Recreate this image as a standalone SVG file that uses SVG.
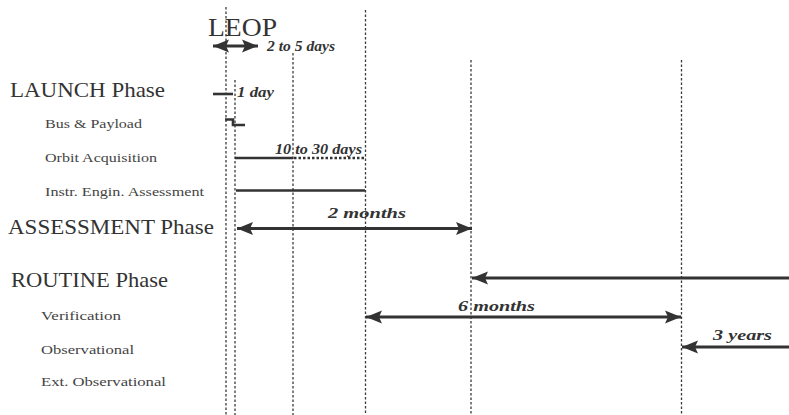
<svg xmlns="http://www.w3.org/2000/svg" width="789" height="415" viewBox="0 0 789 415">
<style>
  .bg{fill:#fff}
  .grid{stroke:#3a3a3a;stroke-width:1.3;stroke-dasharray:2.5 2;fill:none}
  .phase{font-size:22px;fill:#333}
  .sub{font-size:13.5px;fill:#444}
  .dur{font-size:14px;font-style:italic;font-weight:bold;fill:#333}
  .arrow{stroke:#333;stroke-width:3.2;fill:none}
  .bar{stroke:#333;stroke-width:2.6;fill:none}
  .dot{stroke:#333;stroke-width:2.6;stroke-dasharray:2.5 2;fill:none}
</style>
<defs>
  <marker id="ah" markerUnits="userSpaceOnUse" markerWidth="18" markerHeight="14" refX="16" refY="7" orient="auto-start-reverse">
    <path d="M0,0.5 L16,7 L0,13.5 L3,7 z" fill="#333"/>
  </marker>
</defs>
<rect class="bg" x="0" y="0" width="789" height="415"/>

<g id="gridlines">
  <line class="grid" x1="226" y1="7" x2="226" y2="415"/>
  <line class="grid" x1="235" y1="80" x2="235" y2="415"/>
  <line class="grid" x1="293" y1="53" x2="293" y2="415"/>
  <line class="grid" x1="365.5" y1="10" x2="365.5" y2="415"/>
  <line class="grid" x1="471" y1="60" x2="471" y2="415"/>
  <line class="grid" x1="681.5" y1="60" x2="681.5" y2="415"/>
</g>

<g id="leop" font-family="'Liberation Serif', 'Times New Roman', serif">
  <text x="208" y="36" font-size="26" fill="#333" textLength="69" lengthAdjust="spacingAndGlyphs">LEOP</text>
  <line class="arrow" x1="213" y1="46" x2="258" y2="46" marker-start="url(#ah)" marker-end="url(#ah)"/>
  <text class="dur" x="267" y="51" textLength="68" lengthAdjust="spacingAndGlyphs">2 to 5 days</text>
</g>

<g id="launch" font-family="'Liberation Serif', 'Times New Roman', serif">
  <text class="phase" x="10" y="97" textLength="155" lengthAdjust="spacingAndGlyphs">LAUNCH Phase</text>
  <line class="bar" x1="213" y1="94" x2="233" y2="94"/>
  <text class="dur" x="237" y="97" textLength="37" lengthAdjust="spacingAndGlyphs">1 day</text>
</g>

<g id="bus-payload" font-family="'Liberation Serif', 'Times New Roman', serif">
  <text class="sub" x="45" y="128" textLength="97" lengthAdjust="spacingAndGlyphs">Bus &amp; Payload</text>
  <path class="bar" d="M225,119.5 H233 V125 H245"/>
</g>

<g id="orbit-acquisition" font-family="'Liberation Serif', 'Times New Roman', serif">
  <text class="sub" x="45" y="162" textLength="112" lengthAdjust="spacingAndGlyphs">Orbit Acquisition</text>
  <line class="bar" x1="235" y1="158" x2="293" y2="158"/>
  <line class="dot" x1="294" y1="158" x2="365" y2="158"/>
  <text class="dur" x="275" y="154" textLength="87" lengthAdjust="spacingAndGlyphs">10 to 30 days</text>
</g>

<g id="instr-engin-assessment" font-family="'Liberation Serif', 'Times New Roman', serif">
  <text class="sub" x="45" y="196" textLength="159" lengthAdjust="spacingAndGlyphs">Instr. Engin. Assessment</text>
  <line class="bar" x1="236" y1="190.5" x2="365" y2="190.5"/>
</g>

<g id="assessment" font-family="'Liberation Serif', 'Times New Roman', serif">
  <text class="phase" x="8" y="234" textLength="206" lengthAdjust="spacingAndGlyphs">ASSESSMENT Phase</text>
  <line class="arrow" x1="237" y1="228.5" x2="472" y2="228.5" marker-start="url(#ah)" marker-end="url(#ah)"/>
  <text class="dur" x="328" y="218" font-size="16" textLength="78" lengthAdjust="spacingAndGlyphs">2 months</text>
</g>

<g id="routine" font-family="'Liberation Serif', 'Times New Roman', serif">
  <text class="phase" x="11" y="287" textLength="157" lengthAdjust="spacingAndGlyphs">ROUTINE Phase</text>
  <line class="arrow" x1="472" y1="278" x2="800" y2="278" marker-start="url(#ah)"/>
</g>

<g id="verification" font-family="'Liberation Serif', 'Times New Roman', serif">
  <text class="sub" x="41" y="320" textLength="80" lengthAdjust="spacingAndGlyphs">Verification</text>
  <line class="arrow" x1="366" y1="317" x2="681" y2="317" marker-start="url(#ah)" marker-end="url(#ah)"/>
  <text class="dur" x="458" y="311" font-size="16" textLength="77" lengthAdjust="spacingAndGlyphs">6 months</text>
</g>

<g id="observational" font-family="'Liberation Serif', 'Times New Roman', serif">
  <text class="sub" x="41" y="354" textLength="93" lengthAdjust="spacingAndGlyphs">Observational</text>
  <line class="arrow" x1="682" y1="347" x2="800" y2="347" marker-start="url(#ah)"/>
  <text class="dur" x="713" y="340" font-size="16" textLength="59" lengthAdjust="spacingAndGlyphs">3 years</text>
</g>

<g id="ext-observational" font-family="'Liberation Serif', 'Times New Roman', serif">
  <text class="sub" x="41" y="386" textLength="125" lengthAdjust="spacingAndGlyphs">Ext. Observational</text>
</g>
</svg>
